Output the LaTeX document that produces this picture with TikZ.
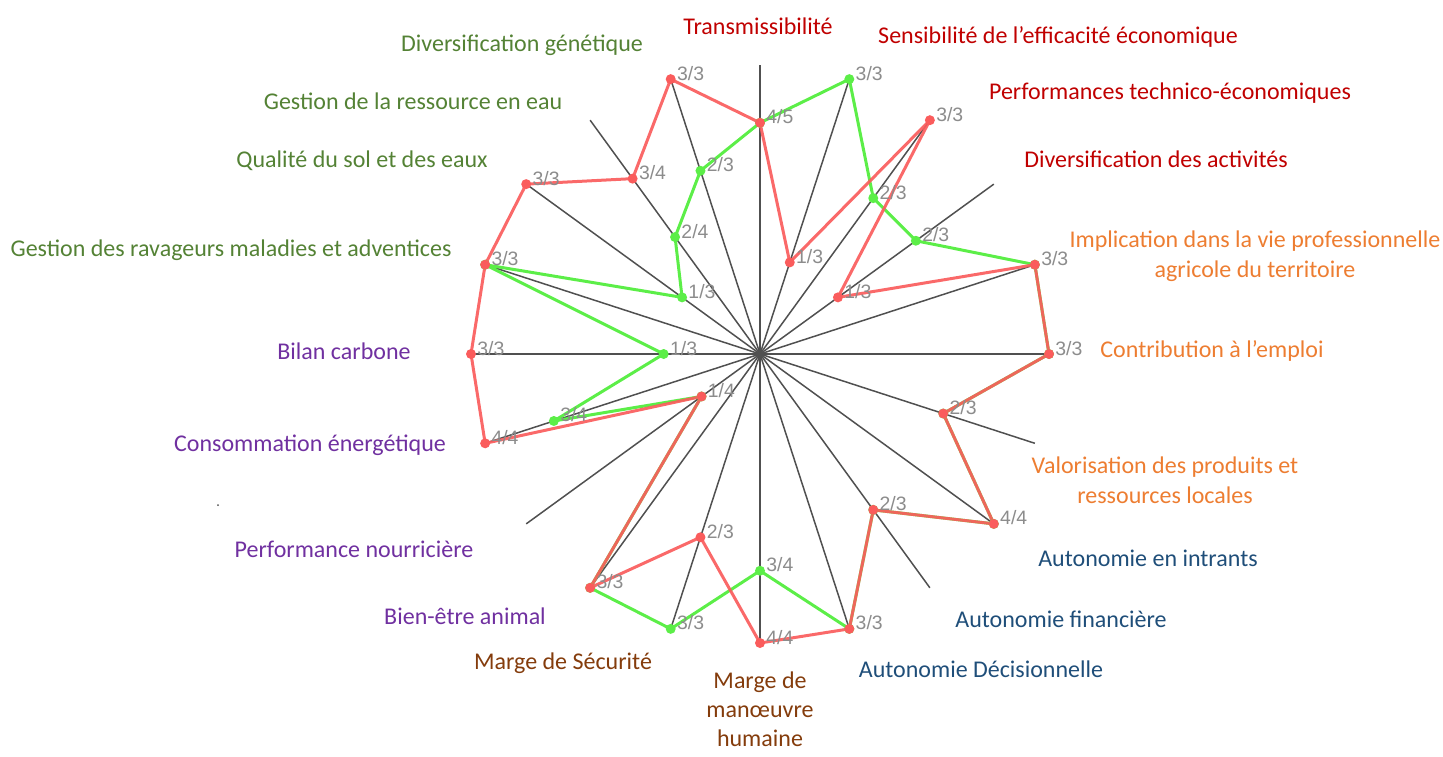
\documentclass[tikz,border=0pt]{standalone}
\usepackage{fontspec}
\setmainfont{Carlito}
\newfontfamily\valfont{Liberation Sans}
\usepackage{tikz}
\usetikzlibrary{calc}
\usepackage{xcolor}
\definecolor{serieRed}{RGB}{250,92,92}
\definecolor{serieGreen}{RGB}{92,238,72}
\definecolor{axisGray}{RGB}{80,80,80}
\definecolor{valGray}{RGB}{140,140,140}
\definecolor{ecoRed}{RGB}{192,0,0}
\definecolor{envGreen}{RGB}{84,130,53}
\definecolor{socOrange}{RGB}{237,125,49}
\definecolor{autoBlue}{RGB}{31,78,121}
\definecolor{margeBrown}{RGB}{132,60,12}
\definecolor{climPurple}{RGB}{112,48,160}
% axis / red value / green value
\newcommand{\chartdata}{0/4/5/4/5, 1/1/3/3/3, 2/3/3/2/3, 3/1/3/2/3, 4/3/3/3/3,
  5/3/3/3/3, 6/2/3/2/3, 7/4/4/4/4, 8/2/3/2/3, 9/3/3/3/3, 10/4/4/3/4,
  11/2/3/3/3, 12/3/3/3/3, 13/1/4/1/4, 14/4/4/3/4, 15/3/3/1/3, 16/3/3/3/3,
  17/3/3/1/3, 18/3/4/2/4, 19/3/3/2/3}

\begin{document}
\begin{tikzpicture}[x=0.5pt, y=0.5pt,
    axisline/.style={draw=axisGray, line width=0.75pt},
    serie/.style={line width=1.5pt, line join=round},
    val/.style={anchor=base west, inner sep=0pt, text=valGray, font=\valfont\fontsize{9.7}{11}\selectfont},
    crit/.style={font=\fontsize{12}{15}\selectfont, align=center}]
    \useasboundingbox (0,0) rectangle (1443,756);

    \begin{scope}[shift={(760,402)}]
        % Axes and points
        \foreach \i/\rn/\rd/\gn/\gd in \chartdata {
            \coordinate (a\i) at ({90-18*\i}:289);
            \coordinate (r\i) at ({90-18*\i}:{289*\rn/\rd});
            \coordinate (g\i) at ({90-18*\i}:{289*\gn/\gd});
        }
        \coordinate (ctr) at (0,0);
        \foreach \i in {0,...,19}
            \draw[axisline] (ctr) -- (a\i);
        \fill[axisGray] (ctr) circle (3);

        % Green series
        \draw[serie, serieGreen] (g0) \foreach \i in {1,...,19} { -- (g\i) } -- cycle;
        % Red series
        \draw[serie, serieRed, opacity=0.92] (r0) \foreach \i in {1,...,19} { -- (r\i) } -- cycle;

        \foreach \i in {0,...,19}
            \fill[serieGreen] (g\i) circle (5);
        \foreach \i in {0,...,19}
            \fill[serieRed] (r\i) circle (5);

        % Value labels
        \foreach \i/\rn/\rd/\gn/\gd in \chartdata {
            \edef\rlab{\rn/\rd}\edef\glab{\gn/\gd}
            \ifx\rlab\glab\else
                \path (g\i) ++(6,-1) node[val] (vg\i) {\gn/\gd};
            \fi
            \path (r\i) ++(6,-1) node[val] (vr\i) {\rn/\rd};
        }
    \end{scope}

    % Criteria
    \node[crit, text=ecoRed] (transm) at (758,730) {Transmissibilité};
    \node[crit, text=ecoRed] (sensib) at (1058,719) {Sensibilité de l’efficacité économique};
    \node[crit, text=ecoRed] (perfte) at (1170,663) {Performances technico-économiques};
    \node[crit, text=ecoRed] (divact) at (1156,597) {Diversification des activités};
    \node[crit, text=socOrange] (implic) at (1255,500) {Implication dans la vie professionnelle\\agricole du territoire};
    \node[crit, text=socOrange] (emploi) at (1212,405) {Contribution à l’emploi};
    \node[crit, text=socOrange] (valori) at (1165,276) {Valorisation des produits et\\ressources locales};
    \node[crit, text=autoBlue] (autint) at (1148,198) {Autonomie en intrants};
    \node[crit, text=autoBlue] (autfin) at (1061,137) {Autonomie financière};
    \node[crit, text=autoBlue] (autdec) at (981,87) {Autonomie Décisionnelle};
    \node[crit, text=margeBrown, font=\fontsize{12}{14.5}\selectfont] (marhum) at (760,47) {Marge de\\manœuvre\\humaine};
    \node[crit, text=margeBrown] (marsec) at (563,93) {Marge de Sécurité};
    \node[crit, text=climPurple] (bienet) at (465,140) {Bien-être animal};
    \node[crit, text=climPurple] (perfno) at (354,207) {Performance nourricière};
    \node[crit, text=climPurple] (consen) at (310,311) {Consommation énergétique};
    \node[crit, text=climPurple] (bilanc) at (344,405) {Bilan carbone};
    \node[crit, text=envGreen] (ravag) at (231,506) {Gestion des ravageurs maladies et adventices};
    \node[crit, text=envGreen] (qualsol) at (362,595) {Qualité du sol et des eaux};
    \node[crit, text=envGreen] (geseau) at (413,655) {Gestion de la ressource en eau};
    \node[crit, text=envGreen] (divgen) at (522,711) {Diversification génétique};

    \fill[axisGray] (218,251) circle (1);
\end{tikzpicture}
\end{document}
